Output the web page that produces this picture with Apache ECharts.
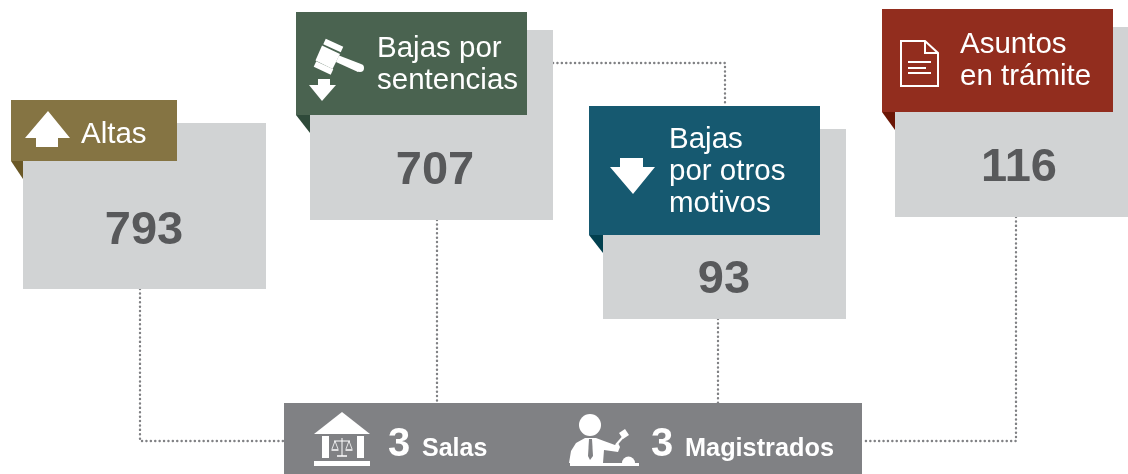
<!DOCTYPE html>
<html>
<head>
<meta charset="utf-8">
<title>Asuntos</title>
<script src="https://cdn.jsdelivr.net/npm/echarts@6/dist/echarts.min.js"></script>
<style>
  html, body { margin: 0; padding: 0; background: #fff; }
  #chart { width: 1128px; height: 474px; }
</style>
</head>
<body>
<div id="chart"></div>
<script>
  // datos
  const categories = ['Altas', 'Bajas por\nsentencias', 'Bajas\npor otros\nmotivos', 'Asuntos\nen trámite'];
  const values = [793, 707, 93, 116];
  const footerCounts = [3, 3];
  const footerLabels = ['Salas', 'Magistrados'];

  // layout de cada tarjeta, mismo orden que categories
  const cards = [
    { box: [23, 123, 243, 166], tag: [11, 100, 166, 61], color: '#857443', fold: '#6a5826', textX: 81, textY: 134.5, numX: 144, numY: 231 },
    { box: [310, 30, 243, 190], tag: [296, 12, 231, 103], color: '#4a6350', fold: '#2f4a3a', textX: 377, textY: 65, numX: 435, numY: 171 },
    { box: [603, 129, 243, 190], tag: [589, 106, 231, 129], color: '#165970', fold: '#02404f', textX: 669, textY: 172, numX: 724, numY: 280 },
    { box: [895, 27, 233, 190], tag: [882, 9, 231, 103], color: '#922d1e', fold: '#6b1606', textX: 960, textY: 61, numX: 1019, numY: 168 }
  ];

  const FONT = '"Liberation Sans", sans-serif';
  const GREY = '#d1d3d4';
  const FOOTER = '#808184';
  const WHITE = '#fff';

  const poly = (points, fill) => ({ type: 'polygon', shape: { points }, style: { fill } });
  const rect = (x, y, width, height, fill) => ({ type: 'rect', shape: { x, y, width, height }, style: { fill } });
  const line = (x1, y1, x2, y2, stroke, lineWidth, lineCap) => ({
    type: 'line',
    shape: { x1, y1, x2, y2 },
    style: { stroke, lineWidth, lineCap: lineCap || 'butt' },
  });
  const text = (x, y, str, fontSize, fontWeight, fill, lineHeight) => ({
    type: 'text',
    x,
    y,
    style: { text: str, fontSize, fontWeight, fontFamily: FONT, fill, lineHeight, align: 'left', verticalAlign: 'middle' },
  });
  const dotted = (points) => ({
    type: 'polyline',
    shape: { points },
    style: { stroke: '#808184', lineWidth: 2.4, lineDash: [0.1, 4.3], lineCap: 'round', fill: null },
  });

  const elements = [];

  // conectores punteados
  elements.push(dotted([[140, 289], [140, 441], [284, 441]]));
  elements.push(dotted([[437, 220], [437, 403]]));
  elements.push(dotted([[553, 63], [725, 63], [725, 106]]));
  elements.push(dotted([[718, 319], [718, 403]]));
  elements.push(dotted([[1016, 217], [1016, 441], [862, 441]]));

  // tarjetas
  cards.forEach((c, i) => {
    const [bx, by, bw, bh] = c.box;
    const [tx, ty, tw, th] = c.tag;
    elements.push(rect(bx, by, bw, bh, GREY));
    elements.push(poly([[tx, ty + th], [bx, ty + th], [bx, ty + th + 18]], c.fold));
    elements.push(rect(tx, ty, tw, th, c.color));
    elements.push(text(c.textX, c.textY, categories[i], 29.5, 400, WHITE, 32));
    elements.push({
      type: 'text',
      x: c.numX,
      y: c.numY,
      style: { text: String(values[i]), fontSize: 47, fontWeight: 700, fontFamily: FONT, fill: '#58595b', align: 'center', verticalAlign: 'middle' },
    });
  });

  // icono flecha arriba
  elements.push(poly([[48, 111], [70, 138], [58, 138], [58, 147], [36, 147], [36, 138], [25, 138]], WHITE));

  // icono mazo + flecha
  elements.push(line(324.5, 41.5, 342, 49.5, WHITE, 6));
  elements.push(line(315, 64, 332, 72, WHITE, 6));
  elements.push(poly([[322, 45.5], [340, 54], [332.5, 69], [315.5, 60.5]], WHITE));
  elements.push(poly([[339, 55.5], [361, 64], [358, 72], [336, 62]], WHITE));
  elements.push({ type: 'circle', shape: { cx: 360, cy: 68, r: 4 }, style: { fill: WHITE } });
  elements.push(poly([[318, 79], [330, 79], [330, 85], [336, 85], [322, 101], [309, 85], [318, 85]], WHITE));

  // icono flecha abajo
  elements.push(poly([[620, 158], [643, 158], [643, 167], [655, 167], [633, 194], [610, 167], [620, 167]], WHITE));

  // icono documento
  elements.push({
    type: 'polygon',
    shape: { points: [[901, 41], [925, 41], [938, 53], [938, 86], [901, 86]] },
    style: { fill: null, stroke: WHITE, lineWidth: 2 },
  });
  elements.push({
    type: 'polyline',
    shape: { points: [[925, 41], [925, 53], [938, 53]] },
    style: { fill: null, stroke: WHITE, lineWidth: 2 },
  });
  elements.push(line(908, 62, 931, 62, WHITE, 2));
  elements.push(line(908, 68, 926, 68, WHITE, 2));
  elements.push(line(908, 73, 931, 73, WHITE, 2));

  // franja inferior
  elements.push(rect(284, 403, 578, 71, FOOTER));
  elements.push(text(388, 445, String(footerCounts[0]), 40, 700, WHITE));
  elements.push(text(422, 449, footerLabels[0], 25, 700, WHITE));
  elements.push(text(651, 445, String(footerCounts[1]), 40, 700, WHITE));
  elements.push(text(685, 449, footerLabels[1], 25.3, 700, WHITE));

  // icono edificio
  elements.push(poly([[342, 412], [370, 434], [314, 434]], WHITE));
  elements.push(rect(322, 436, 7, 22, WHITE));
  elements.push(rect(357, 436, 7, 22, WHITE));
  elements.push(rect(314, 461, 56, 5, WHITE));
  elements.push(line(342, 438, 342, 456, WHITE, 1));
  elements.push(line(337, 456, 347, 456, WHITE, 1.5));
  elements.push(line(334, 441, 350, 441, WHITE, 1));
  [[335, 441], [349, 441]].forEach(([x, y]) => {
    elements.push({
      type: 'polyline',
      shape: { points: [[x - 3, y + 8], [x, y], [x + 3, y + 8]] },
      style: { fill: null, stroke: WHITE, lineWidth: 0.8 },
    });
    elements.push(line(x - 3.5, y + 9, x + 3.5, y + 9, WHITE, 1.5));
  });

  // icono magistrado
  elements.push({ type: 'circle', shape: { cx: 590, cy: 425, r: 11 }, style: { fill: WHITE } });
  elements.push(poly([[569, 463], [571, 451], [576, 443], [585, 438], [596, 438], [604, 441], [615, 445], [618, 443], [620, 447], [618, 452], [604, 450], [603, 463]], WHITE));
  elements.push(poly([[589, 439], [592, 439], [593, 456], [590, 460], [588, 456]], FOOTER));
  elements.push(line(616, 445, 623, 437, WHITE, 2));
  elements.push(poly([[619, 433], [625, 429], [629, 435], [623, 439]], WHITE));
  elements.push(rect(570, 463, 69, 3, WHITE));
  elements.push({ type: 'sector', shape: { cx: 628.5, cy: 463, r0: 0, r: 6.5, startAngle: Math.PI, endAngle: 2 * Math.PI }, style: { fill: WHITE } });

  const chart = echarts.init(document.getElementById('chart'));
  chart.setOption({
    backgroundColor: '#fff',
    animation: false,
    graphic: { elements },
  });
</script>
</body>
</html>
